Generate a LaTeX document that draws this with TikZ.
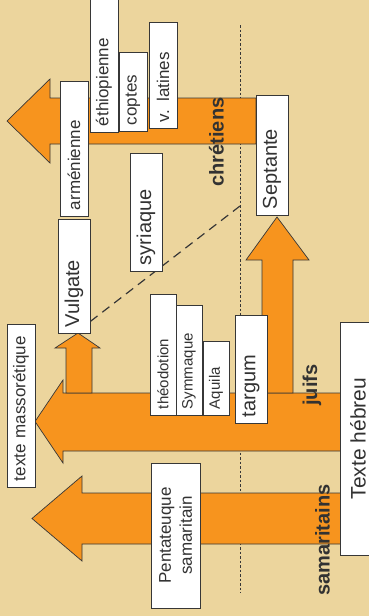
\documentclass[tikz,border=0pt]{standalone}
\usepackage{fontspec}
\setmainfont{Liberation Sans}
\usepackage{tikz}
\usetikzlibrary{calc}
\definecolor{papyrus}{RGB}{236,213,157}
\definecolor{orangefl}{RGB}{247,148,30}
\definecolor{trait}{RGB}{55,55,55}
\definecolor{encre}{RGB}{50,50,50}
\pgfdeclarelayer{fond}
\pgfsetlayers{fond,main}

\begin{document}
\begin{tikzpicture}[x=1pt, y=-1pt,
		every node/.style={text=encre, font=\fontsize{17}{21}\selectfont},
		fleche/.style={fill=orangefl, draw=trait, line width=0.7pt},
		boite/.style={draw=trait, fill=white, line width=0.8pt, rotate=90, align=left, inner xsep=6pt, inner ysep=0pt},
		grand/.style={font=\fontsize{20}{24}\selectfont},
		petit/.style={font=\fontsize{15}{18}\selectfont},
		groupe/.style={rotate=90, inner sep=0pt, font=\bfseries\fontsize{20}{24}\selectfont}]
		\useasboundingbox (0,0) rectangle (369,616);
		\coordinate (haut) at (240,25);
		\coordinate (bas) at (240,593);
		\coordinate (fourche) at (240,206);
		% fleches
		\draw[fleche] (256,98) -- (50,98) -- (50,79) -- (7,121) -- (50,163) -- (50,144) -- (256,144) -- cycle;
		\draw[fleche] (341,393) -- (63,393) -- (63,380) -- (35,421.5) -- (63,463) -- (63,451) -- (341,451) -- cycle;
		\draw[fleche] (341,493) -- (82,493) -- (82,476) -- (32,518.5) -- (82,561) -- (82,544) -- (341,544) -- cycle;
		\draw[fleche] (66,393) -- (66,348) -- (55,348) -- (78,333) -- (100,348) -- (92,348) -- (92,393) -- cycle;
		\draw[fleche] (262,393) -- (262,260) -- (246,260) -- (277,217) -- (309,260) -- (293,260) -- (293,393) -- cycle;
		% versions
		\node[boite, text width=123pt, minimum height=28pt] (armenienne) at (74,148.5) {arménienne};
		\node[boite, text width=125pt, minimum height=28pt] (ethiopienne) at (104,63.5) {éthiopienne};
		\node[boite, text width=67pt, minimum height=28pt] (coptes) at (133,91.5) {coptes};
		\node[boite, text width=94pt, minimum height=28pt] (latines) at (163,75) {v. latines};
		\node[boite, grand, text width=108pt, minimum height=32pt] (septante) at (272,155) {Septante};
		\node[boite, grand, text width=106pt, minimum height=32pt] (syriaque) at (146,212) {syriaque};
		\node[boite, grand, text width=102pt, minimum height=32pt] (vulgate) at (74,276) {Vulgate};
		\node[boite, text width=151pt, minimum height=28pt] (massoretique) at (21,405.5) {texte massorétique};
		\node[boite, petit, text width=109pt, minimum height=26pt] (theodotion) at (163,354.5) {théodotion};
		\node[boite, petit, text width=98pt, minimum height=26pt] (symmaque) at (189,360) {Symmaque};
		\node[boite, petit, text width=62pt, minimum height=26pt] (aquila) at (216,378) {Aquila};
		\node[boite, grand, text width=96pt, minimum height=32pt] (targum) at (251,369) {targum};
		\node[boite, font=\fontsize{21}{25}\selectfont, minimum width=233pt, minimum height=36pt, align=center] (hebreu) at (358,438.5) {Texte hébreu};
		\node[boite, minimum width=145pt, minimum height=49pt, align=center] (pentateuque) at (175.5,535.5) {Pentateuque\\samaritain};
		% groupes
		\node[groupe] (chretiens) at (216.5,142) {chrétiens};
		\node[groupe] (juifs) at (312,385) {juifs};
		\node[groupe] (samaritains) at (322.5,540) {samaritains};
		\begin{pgfonlayer}{fond}
			\fill[papyrus] (0,0) rectangle (369,616);
			\draw[trait, line width=0.9pt, dash pattern=on 2.5pt off 2pt] (haut) -- (bas);
			\draw[trait, line width=1.2pt, dash pattern=on 9pt off 6pt] ($(vulgate.south west)!12pt!(vulgate.south east)$) -- (fourche);
		\end{pgfonlayer}
	\end{tikzpicture}
\end{document}
